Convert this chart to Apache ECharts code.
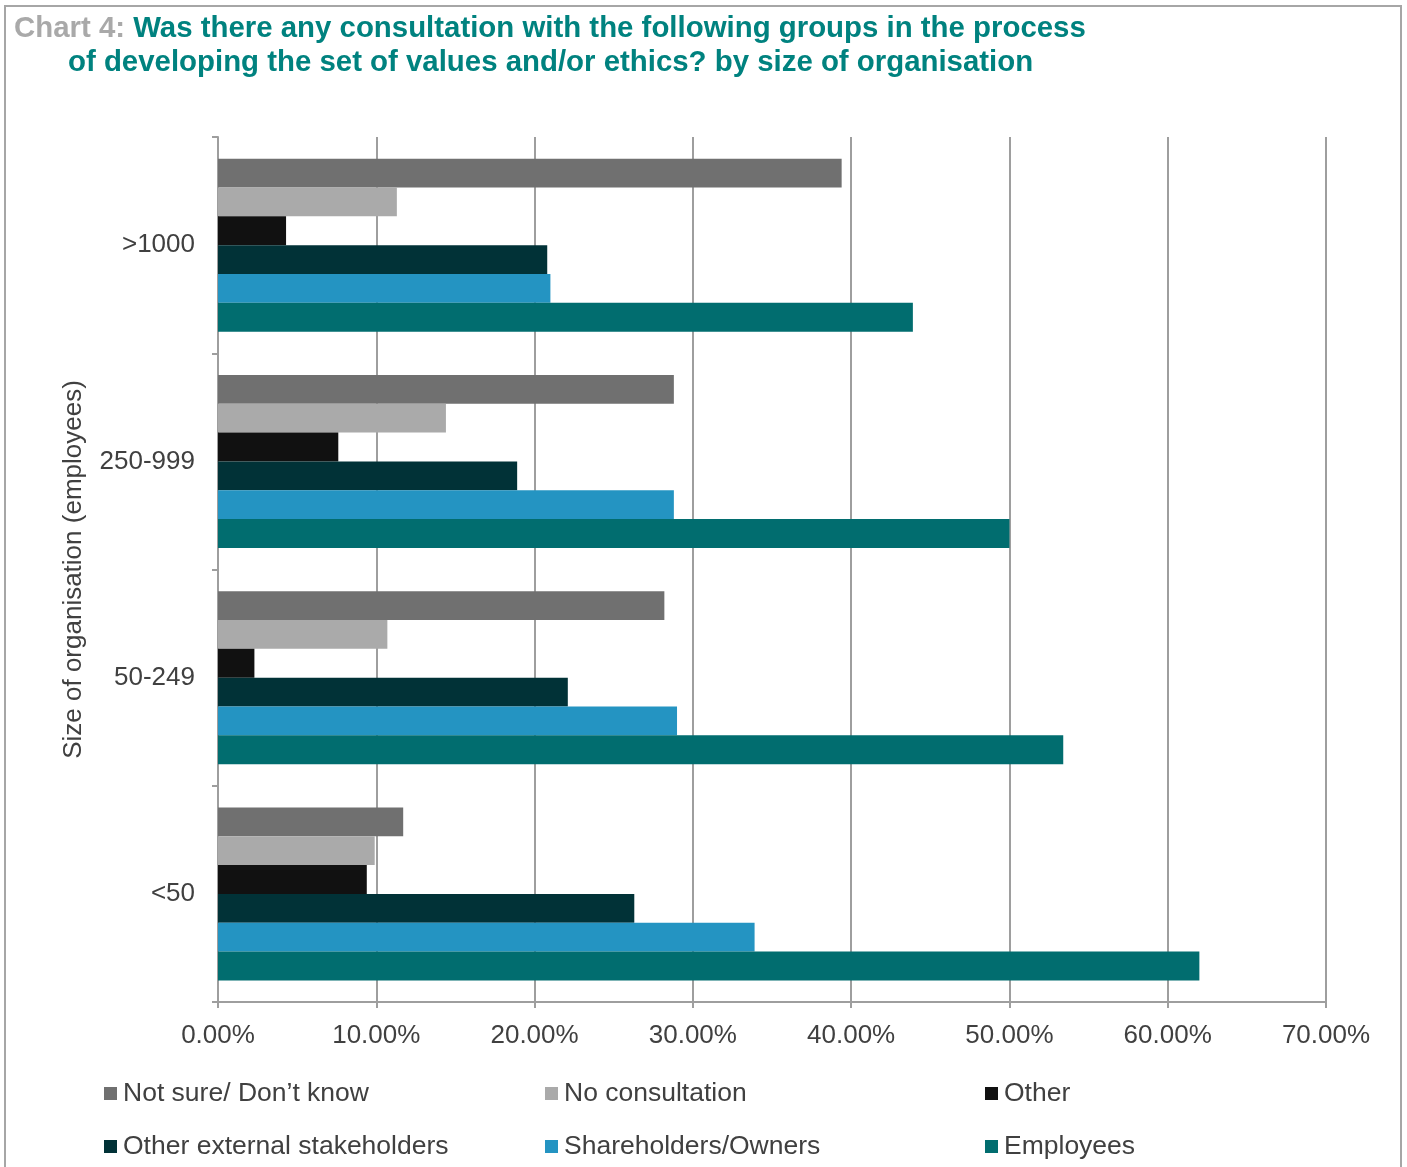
<!DOCTYPE html>
<html>
<head>
<meta charset="utf-8">
<script src="https://cdn.jsdelivr.net/npm/echarts@6/dist/echarts.min.js"></script>
<style>
html,body{margin:0;padding:0;background:#fff;}
#chart{width:1407px;height:1167px;}
</style>
</head>
<body>
<div id="chart"></div>
<script>
const categories = ['<50', '50-249', '250-999', '>1000'];
const seriesNames = ['Not sure/ Don\u2019t know', 'No consultation', 'Other', 'Other external stakeholders', 'Shareholders/Owners', 'Employees'];
const notSure = [11.7, 28.2, 28.8, 39.4];
const noConsultation = [9.9, 10.7, 14.4, 11.3];
const other = [9.4, 2.3, 7.6, 4.3];
const otherExternal = [26.3, 22.1, 18.9, 20.8];
const shareholders = [33.9, 29.0, 28.8, 21.0];
const employees = [62.0, 53.4, 50.0, 43.9];
const xTicks = [0, 10, 20, 30, 40, 50, 60, 70];
const colors = ['#707070', '#aaaaaa', '#111111', '#013237', '#2494c2', '#016d6f'];

const values = [notSure, noConsultation, other, otherExternal, shareholders, employees];
const font = '"Liberation Sans", Arial, sans-serif';
const titleFont = '"Liberation Sans Narrow", "Liberation Sans", Arial, sans-serif';
const chart = echarts.init(document.getElementById('chart'));

const series = seriesNames.map((n, i) => ({
  name: n, type: 'bar', data: values[i],
  itemStyle: { color: colors[i] },
  barGap: '0%', barCategoryGap: '20%'
}));

const legendPos = [[104, 1080], [545, 1080], [985, 1080], [104, 1133], [545, 1133], [985, 1133]];
const legends = seriesNames.map((n, i) => ({
  data: [n], left: legendPos[i][0], top: legendPos[i][1],
  icon: 'rect', itemWidth: 13, itemHeight: 13, itemGap: 0, padding: 0,
  textStyle: { fontSize: 26.5, color: '#404040', fontFamily: font, padding: [0, 0, 0, 1] }
}));

chart.setOption({
  animation: false,
  backgroundColor: '#ffffff',
  title: [
    { left: 14, top: 14, padding: 0, text: '{g|Chart 4: }{t|Was there any consultation with the following groups in the process}',
      textStyle: { rich: {
        g: { fontSize: 29.4, fontWeight: 'bold', color: '#a9a9a9', fontFamily: titleFont },
        t: { fontSize: 29.4, fontWeight: 'bold', color: '#00827f', fontFamily: titleFont } } } },
    { left: 68, top: 48, padding: 0, text: 'of developing the set of values and/or ethics? by size of organisation',
      textStyle: { fontSize: 29.4, fontWeight: 'bold', color: '#00827f', fontFamily: titleFont } }
  ],
  graphic: [{ type: 'rect', shape: { x: 5, y: 6, width: 1396, height: 1200 }, style: { fill: null, stroke: '#a6a6a6', lineWidth: 2 }, silent: true }],
  legend: legends,
  grid: { left: 218, right: 81, top: 137, bottom: 165, containLabel: false },
  xAxis: {
    type: 'value', min: 0, max: 70, interval: 10,
    axisLine: { show: true, lineStyle: { color: '#9e9e9e', width: 2 } },
    axisTick: { show: true, length: 6, lineStyle: { color: '#9e9e9e', width: 2 } },
    splitLine: { show: true, lineStyle: { color: '#9e9e9e', width: 2 } },
    axisLabel: { margin: 21, fontSize: 26, color: '#404040', fontFamily: font,
      formatter: v => xTicks.includes(v) ? v.toFixed(2) + '%' : '' }
  },
  yAxis: {
    type: 'category', data: categories,
    name: 'Size of organisation (employees)', nameLocation: 'middle', nameGap: 131, nameRotate: 90,
    nameTextStyle: { fontSize: 26, color: '#404040', fontFamily: font },
    axisLine: { show: true, lineStyle: { color: '#9e9e9e', width: 2 } },
    axisTick: { show: true, length: 6, lineStyle: { color: '#9e9e9e', width: 2 } },
    axisLabel: { margin: 23, fontSize: 26, color: '#404040', fontFamily: font }
  },
  series: series
});
</script>
</body>
</html>
